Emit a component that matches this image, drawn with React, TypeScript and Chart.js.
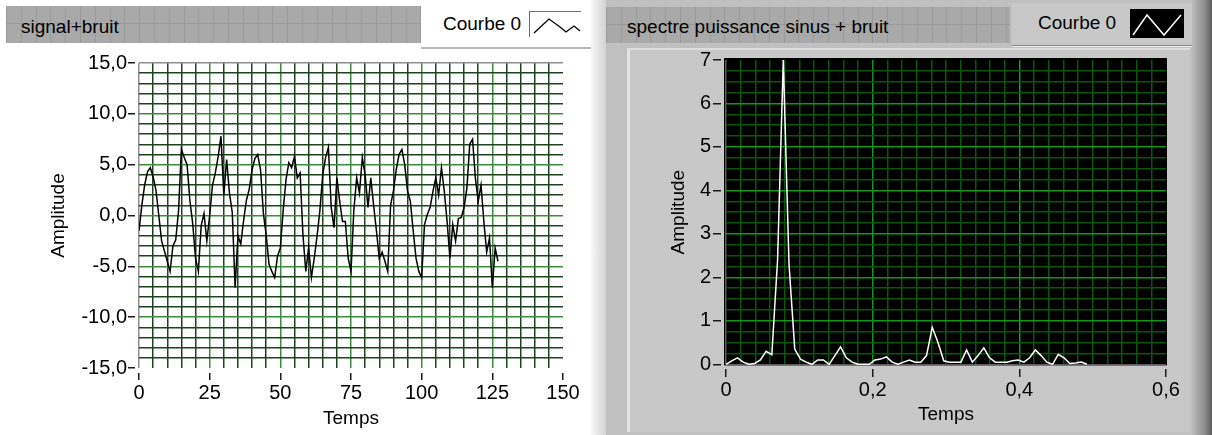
import React, { useEffect, useRef } from 'react';
import { Chart, registerables } from 'chart.js';

Chart.register(...registerables);

// ---------- data ----------
const SIGNAL_VALUES = [
  -1.5, 1.0, 3.0, 4.3, 4.7, 3.8, 2.5, 0.0, -2.5, -3.5,
  -4.5, -5.5, -3.0, -2.4, 0.5, 6.5, 5.7, 5.0, 1.5, -0.8,
  -4.2, -5.5, -1.0, 0.2, -2.5, 0.0, 3.0, 4.2, 5.8, 7.8,
  2.0, 5.5, 2.2, 0.3, -7.1, -2.0, -2.8, -0.5, 1.5, 2.6,
  4.5, 5.6, 6.0, 4.5, 0.2, -1.9, -4.8, -5.5, -6.1, -4.0,
  -3.2, 0.5, 3.5, 5.2, 4.7, 5.8, 3.7, 4.2, -1.9, -5.5,
  -3.2, -6.1, -4.2, -2.0, 0.5, 4.0, 5.7, 6.7, 0.8, -1.2,
  3.7, 1.4, -0.6, -0.6, -4.2, -5.5, 0.5, 3.7, 2.2, 5.7,
  4.0, 0.8, 3.7, 1.0, -1.5, -4.2, -3.6, -4.5, -5.5, 1.0,
  2.4, 4.5, 6.0, 6.5, 5.0, 2.4, 1.4, -1.5, -4.2, -5.5,
  -6.1, -0.9, 0.1, 0.8, 2.4, 3.7, 2.0, 4.7, 2.4, -0.6,
  -4.2, -0.9, -2.5, -0.3, -0.2, 0.8, 2.7, 7.0, 7.5, 3.7,
  1.4, 3.0, -0.6, -3.6, -2.2, -7.1, -3.2, -4.5,
];

const SPECTRUM_VALUES = [
  0.0, 0.08, 0.15, 0.05, 0.0, 0.02, 0.1, 0.3, 0.22, 2.4,
  7.0, 2.3, 0.35, 0.12, 0.05, 0.0, 0.1, 0.1, 0.0, 0.2,
  0.4, 0.15, 0.05, 0.0, 0.0, 0.0, 0.1, 0.12, 0.17, 0.05,
  0.0, 0.05, 0.1, 0.05, 0.05, 0.2, 0.85, 0.5, 0.08, 0.05,
  0.05, 0.05, 0.33, 0.05, 0.2, 0.38, 0.15, 0.05, 0.05, 0.05,
  0.08, 0.1, 0.05, 0.15, 0.33, 0.2, 0.05, 0.0, 0.23, 0.15,
  0.02, 0.03, 0.05, 0.0,
];

const SAMPLE_PERIOD = 1;
const FREQ_RESOLUTION = 1 / 128;

const SIGNAL_X_LABELS = [0, 25, 50, 75, 100, 125, 150];
const SIGNAL_Y_LABELS = [-15, -10, -5, 0, 5, 10, 15];
const SPECTRUM_X_LABELS = [0, 0.2, 0.4, 0.6];
const SPECTRUM_Y_LABELS = [0, 1, 2, 3, 4, 5, 6, 7];

// ---------- helpers ----------
const FONT = "'Liberation Sans', Arial, sans-serif";
const near = (a: number, b: number) => Math.abs(a - b) < 1e-6;
const isIn = (arr: number[], v: number) => arr.some((a) => near(a, v));
const comma = (v: number, d: number) => v.toFixed(d).replace('.', ',');
const NONE = 'rgba(0,0,0,0)';

const L_MINOR = '#1e431e';
const L_MAJOR = '#3a8e3a';
const L_BORDER = '#8e8e8e';
const R_MINOR = '#0a560a';
const R_MAJOR = '#14961a';
const R_BORDER = '#5c5c5c';
const TICK = '#1a1a1a';

function SignalChart() {
  const ref = useRef<HTMLCanvasElement>(null);
  useEffect(() => {
    const chart = new Chart(ref.current as HTMLCanvasElement, {
      type: 'line',
      data: {
        datasets: [
          {
            label: 'Courbe 0',
            data: SIGNAL_VALUES.map((y, i) => ({ x: i * SAMPLE_PERIOD, y })),
            borderColor: '#000000',
            borderWidth: 1.5,
            pointRadius: 0,
            tension: 0,
            fill: false,
          },
        ],
      },
      options: {
        animation: false,
        responsive: false,
        events: [],
        plugins: { legend: { display: false }, tooltip: { enabled: false } },
        layout: { padding: { left: 0, top: 18, right: 27, bottom: 0 } },
        scales: {
          x: {
            type: 'linear',
            min: 0,
            max: 150,
            afterFit: (s: any) => {
              s.height = 67;
            },
            ticks: {
              stepSize: 5,
              maxTicksLimit: 1000,
              autoSkip: false,
              maxRotation: 0,
              minRotation: 0,
              padding: 1,
              color: '#000',
              font: { family: FONT, size: 20 },
              callback: (v: any) => (isIn(SIGNAL_X_LABELS, Number(v)) ? String(v) : ''),
            },
            grid: {
              color: (ctx: any) => {
                const v = ctx.tick?.value;
                if (v === undefined) return NONE;
                if (near(v, 0)) return L_BORDER;
                if (near(v, 150)) return NONE;
                return isIn(SIGNAL_X_LABELS, v) ? L_MAJOR : L_MINOR;
              },
              lineWidth: 1.5,
              tickLength: 12,
              tickWidth: 1.5,
              tickColor: (ctx: any) => (isIn(SIGNAL_X_LABELS, ctx.tick?.value) ? TICK : NONE),
              tickBorderDash: [7, 5],
              tickBorderDashOffset: 7,
            },
            border: { display: false },
            title: {
              display: true,
              text: 'Temps',
              color: '#000',
              font: { family: FONT, size: 19 },
              padding: { top: 0, bottom: 4.5 },
            },
          },
          y: {
            type: 'linear',
            min: -15,
            max: 15,
            afterFit: (s: any) => {
              s.width = 139;
            },
            ticks: {
              stepSize: 1,
              maxTicksLimit: 1000,
              autoSkip: false,
              padding: 1,
              color: '#000',
              font: { family: FONT, size: 20 },
              callback: (v: any) => (isIn(SIGNAL_Y_LABELS, Number(v)) ? comma(Number(v), 1) : ''),
            },
            grid: {
              color: (ctx: any) => {
                const v = ctx.tick?.value;
                if (v === undefined) return NONE;
                if (near(v, 15)) return L_BORDER;
                if (near(v, -15)) return NONE;
                return isIn(SIGNAL_Y_LABELS, v) ? L_MAJOR : L_MINOR;
              },
              lineWidth: 1.5,
              tickLength: 11,
              tickWidth: 1.5,
              tickColor: (ctx: any) => (isIn(SIGNAL_Y_LABELS, ctx.tick?.value) ? TICK : NONE),
              tickBorderDash: [7, 4],
            },
            border: { display: false },
            title: {
              display: true,
              text: 'Amplitude',
              color: '#000',
              font: { family: FONT, size: 19 },
              padding: { top: 47, bottom: 0 },
            },
          },
        },
      } as any,
    });
    return () => chart.destroy();
  }, []);
  return (
    <canvas
      ref={ref}
      width={590}
      height={390}
      style={{ position: 'absolute', left: 0, top: 45, width: 590, height: 390 }}
    />
  );
}

const plotBackground = {
  id: 'plotBackground',
  beforeDraw(chart: any) {
    const { ctx, chartArea: a } = chart;
    ctx.save();
    ctx.fillStyle = '#000000';
    ctx.fillRect(a.left - 2, a.top - 2, a.right - a.left + 3, a.bottom - a.top + 3);
    ctx.restore();
  },
};

function SpectrumChart() {
  const ref = useRef<HTMLCanvasElement>(null);
  useEffect(() => {
    const chart = new Chart(ref.current as HTMLCanvasElement, {
      type: 'line',
      data: {
        datasets: [
          {
            label: 'Courbe 0',
            data: SPECTRUM_VALUES.map((y, k) => ({ x: k * FREQ_RESOLUTION, y })),
            borderColor: '#ffffff',
            borderWidth: 1.5,
            pointRadius: 0,
            tension: 0,
            fill: false,
            clip: 4,
          },
        ],
      },
      plugins: [plotBackground],
      options: {
        animation: false,
        responsive: false,
        events: [],
        plugins: { legend: { display: false }, tooltip: { enabled: false } },
        layout: { padding: { left: 0, top: 15, right: 46, bottom: 0 } },
        scales: {
          x: {
            type: 'linear',
            min: 0,
            max: 0.6,
            afterFit: (s: any) => {
              s.height = 70.7;
            },
            ticks: {
              stepSize: 0.02,
              maxTicksLimit: 1000,
              autoSkip: false,
              maxRotation: 0,
              minRotation: 0,
              padding: 1.3,
              color: '#000',
              font: { family: FONT, size: 20 },
              callback: (v: any) => {
                const n = Number(v);
                if (!isIn(SPECTRUM_X_LABELS, n)) return '';
                return near(n, 0) ? '0' : comma(n, 1);
              },
            },
            grid: {
              color: (ctx: any) => {
                const v = ctx.tick?.value;
                if (v === undefined) return NONE;
                if (near(v, 0)) return R_BORDER;
                if (near(v, 0.6)) return NONE;
                return isIn(SPECTRUM_X_LABELS, v) ? R_MAJOR : R_MINOR;
              },
              lineWidth: 1.5,
              tickLength: 13,
              tickWidth: 1.5,
              tickColor: (ctx: any) => (isIn(SPECTRUM_X_LABELS, ctx.tick?.value) ? TICK : NONE),
              tickBorderDash: [8, 5],
              tickBorderDashOffset: 8,
            },
            border: { display: false },
            title: {
              display: true,
              text: 'Temps',
              color: '#000',
              font: { family: FONT, size: 19 },
              padding: { top: 0, bottom: 9 },
            },
          },
          y: {
            type: 'linear',
            min: 0,
            max: 7,
            afterFit: (s: any) => {
              s.width = 120;
            },
            ticks: {
              stepSize: 0.25,
              maxTicksLimit: 1000,
              autoSkip: false,
              padding: 2,
              color: '#000',
              font: { family: FONT, size: 20 },
              callback: (v: any) => (isIn(SPECTRUM_Y_LABELS, Number(v)) ? String(Math.round(Number(v))) : ''),
            },
            grid: {
              color: (ctx: any) => {
                const v = ctx.tick?.value;
                if (v === undefined) return NONE;
                if (near(v, 0)) return R_BORDER;
                if (near(v, 7)) return NONE;
                return isIn(SPECTRUM_Y_LABELS, v) ? R_MAJOR : R_MINOR;
              },
              lineWidth: 1.5,
              tickLength: 13,
              tickWidth: 1.5,
              tickColor: (ctx: any) => (isIn(SPECTRUM_Y_LABELS, ctx.tick?.value) ? TICK : NONE),
              tickBorderDash: [8, 5],
            },
            border: { display: false },
            title: {
              display: true,
              text: 'Amplitude',
              color: '#000',
              font: { family: FONT, size: 19 },
              padding: { top: 61, bottom: 0 },
            },
          },
        },
      } as any,
    });
    return () => chart.destroy();
  }, []);
  return (
    <canvas
      ref={ref}
      width={606}
      height={390}
      style={{ position: 'absolute', left: 606, top: 45, width: 606, height: 390 }}
    />
  );
}

const headerPattern: React.CSSProperties = {
  backgroundColor: '#a9a9a9',
  backgroundImage:
    'linear-gradient(to bottom, transparent 17px, #999999 17px, #999999 18px, transparent 18px),' +
    'repeating-linear-gradient(to right, #9a9a9a 0px, #9a9a9a 1px, transparent 1px, transparent 14.8px)',
};

const textStyle: React.CSSProperties = {
  position: 'absolute',
  fontFamily: FONT,
  fontSize: 19,
  lineHeight: '19px',
  color: '#000',
  whiteSpace: 'nowrap',
};

export default function App() {
  return (
    <div
      style={{
        position: 'fixed',
        left: 0,
        top: 0,
        width: 1212,
        height: 435,
        overflow: 'hidden',
        background: '#ffffff',
        fontFamily: FONT,
      }}
    >
      {/* left header */}
      <div style={{ position: 'absolute', left: 6, top: 6, width: 415, height: 37, ...headerPattern }}>
        <span style={{ ...textStyle, left: 15, top: 11 }}>signal+bruit</span>
      </div>
      {/* left legend */}
      <div
        style={{
          position: 'absolute',
          left: 421,
          top: 4,
          width: 173,
          height: 43,
          background: '#ffffff',
          borderBottom: '2px solid #b8b8b8',
        }}
      />
      <span style={{ ...textStyle, left: 443, top: 14 }}>Courbe 0</span>
      <div
        style={{
          position: 'absolute',
          left: 529,
          top: 11,
          width: 51,
          height: 25,
          background: '#ffffff',
          borderTop: '1px solid #6e6e6e',
          borderLeft: '1px solid #6e6e6e',
        }}
      >
        <svg width={51} height={25} style={{ display: 'block' }}>
          <polyline
            points="4,21 19,7 30,15 36,20 44,14 50,19"
            fill="none"
            stroke="#000"
            strokeWidth={1.3}
          />
        </svg>
      </div>
      {/* separator */}
      <div
        style={{
          position: 'absolute',
          left: 591,
          top: 0,
          width: 15,
          height: 435,
          background: 'linear-gradient(to right, #f8f8f8, #d2d2d2)',
        }}
      />
      {/* right side background */}
      <div style={{ position: 'absolute', left: 606, top: 0, width: 606, height: 435, background: '#c0c0c0' }} />
      <div
        style={{
          position: 'absolute',
          left: 627,
          top: 48,
          width: 563,
          height: 384,
          background: '#c8c8c8',
          borderLeft: '3px solid #e4e4e4',
          borderTop: '2px solid #dedede',
          boxSizing: 'border-box',
        }}
      />
      <div
        style={{
          position: 'absolute',
          left: 1192,
          top: 0,
          width: 20,
          height: 435,
          background: 'linear-gradient(to right, #bcbcbc, #8c8c8c 65%, #5c5c5c)',
        }}
      />
      {/* right header */}
      <div style={{ position: 'absolute', left: 606, top: 7, width: 404, height: 36, ...headerPattern }}>
        <span style={{ ...textStyle, left: 21, top: 10 }}>spectre puissance sinus + bruit</span>
      </div>
      {/* right legend */}
      <div
        style={{
          position: 'absolute',
          left: 1012,
          top: 3,
          width: 180,
          height: 42,
          background: '#c8c8c8',
          borderBottom: '1px solid #8a8a8a',
          boxShadow: '0 1px 0 #ececec',
        }}
      />
      <span style={{ ...textStyle, left: 1038, top: 13 }}>Courbe 0</span>
      <div style={{ position: 'absolute', left: 1130, top: 9, width: 54, height: 29, background: '#000000' }}>
        <svg width={54} height={29} style={{ display: 'block' }}>
          <polyline points="3,26 17,6 34,26 51,6" fill="none" stroke="#ffffff" strokeWidth={1.5} />
        </svg>
      </div>
      <SignalChart />
      <SpectrumChart />
    </div>
  );
}
